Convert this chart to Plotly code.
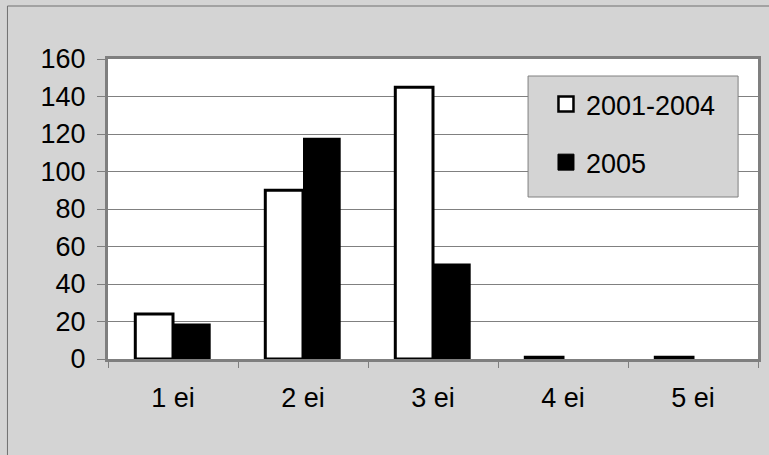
import plotly.graph_objects as go

categories = ["1 ei", "2 ei", "3 ei", "4 ei", "5 ei"]
series_names = ["2001-2004", "2005"]
values_2001_2004 = [24, 90, 145, 1, 1]
values_2005 = [19, 118, 51, 0, 0]
y_ticks = [0, 20, 40, 60, 80, 100, 120, 140, 160]

FONT = "Liberation Sans, Arial, sans-serif"
GRAY = "#d4d4d4"
AXIS = "#7f7f7f"

fig = go.Figure()
fig.add_trace(go.Bar(
    x=categories, y=values_2001_2004, name=series_names[0], showlegend=False,
    marker=dict(color="white", line=dict(color="black", width=3)),
))
fig.add_trace(go.Bar(
    x=categories, y=values_2005, name=series_names[1], showlegend=False,
    marker=dict(color="black", line=dict(color="black", width=0)),
))
# legend entries
fig.add_trace(go.Scatter(
    x=[None], y=[None], mode="markers", name=series_names[0], legendgroup="a",
    marker=dict(symbol="square", size=15, color="white", line=dict(color="black", width=2.5)),
))
fig.add_trace(go.Scatter(
    x=[None], y=[None], mode="markers", name=series_names[1], legendgroup="b",
    marker=dict(symbol="square", size=16, color="black", line=dict(color="black", width=1)),
))

L, R, T, B = 108, 8, 59, 96
W, H = 769, 455
pw, ph = W - L - R, H - T - B

def px(x):
    return (x - L) / pw

def py(y):
    return (H - B - y) / ph

fig.update_layout(
    width=W, height=H,
    margin=dict(l=L, r=R, t=T, b=B, pad=0),
    paper_bgcolor=GRAY, plot_bgcolor="white",
    font=dict(family=FONT, size=27, color="black"),
    barmode="group", bargap=0.42, bargroupgap=0,
    showlegend=True,
    legend=dict(
        x=px(548), y=py(80), xanchor="left", yanchor="top",
        bgcolor="rgba(0,0,0,0)", borderwidth=0,
        traceorder="grouped", tracegroupgap=20,
        font=dict(family=FONT, size=27, color="black"),
    ),
    xaxis=dict(
        type="category", categoryorder="array", categoryarray=categories,
        tickson="boundaries", ticks="outside", ticklen=6, tickwidth=1, tickcolor=AXIS,
        showline=True, linecolor=AXIS, linewidth=3, mirror=True,
        showgrid=False, ticklabelstandoff=13,
        tickfont=dict(family=FONT, size=27, color="black"),
    ),
    yaxis=dict(
        range=[0, 160], tickvals=y_ticks, ticks="outside", ticklen=8, tickwidth=1,
        tickcolor=AXIS, showline=True, linecolor=AXIS, linewidth=3, mirror=True,
        showgrid=True, gridcolor="#808080", gridwidth=1, zeroline=False,
        ticklabelstandoff=6,
        tickfont=dict(family=FONT, size=27, color="black"),
    ),
    shapes=[
        dict(type="rect", xref="paper", yref="paper",
             x0=px(530), x1=px(741), y0=py(197), y1=py(76),
             fillcolor=GRAY, line=dict(color="#808080", width=1), layer="above"),
        dict(type="path", xref="paper", yref="paper",
             path=f"M {px(7)},{py(470)} L {px(7)},{py(6)} L {px(790)},{py(6)}",
             line=dict(color="#707070", width=1)),
    ],
)

fig.write_html(
    "out.html",
    config={"displayModeBar": False},
    post_script="document.body.style.margin='0';document.body.style.overflow='hidden';",
)
